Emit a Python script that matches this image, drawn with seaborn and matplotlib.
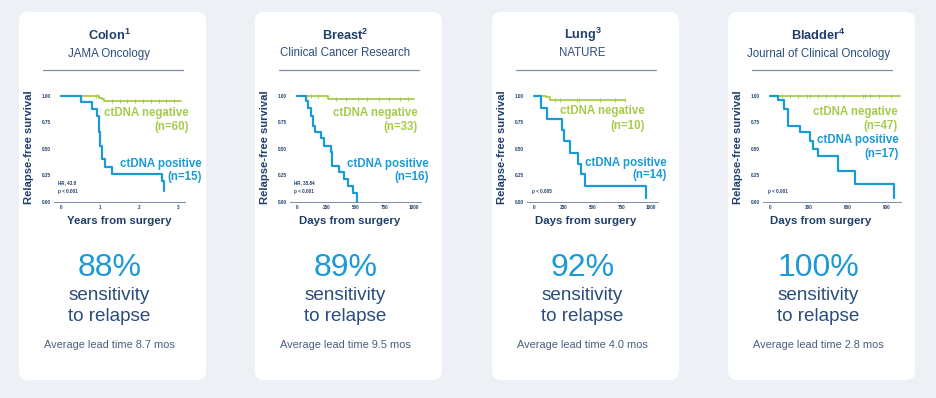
import numpy as np
import pandas as pd
import seaborn as sns
import matplotlib.pyplot as plt
from matplotlib.patches import FancyBboxPatch
from matplotlib.lines import Line2D
from matplotlib.transforms import IdentityTransform

# ---- data ----
cancers = ["Colon", "Breast", "Lung", "Bladder"]
ref_marks = ["1", "2", "3", "4"]
journals = ["JAMA Oncology", "Clinical Cancer Research", "NATURE", "Journal of Clinical Oncology"]
x_titles = ["Years from surgery", "Days from surgery", "Days from surgery", "Days from surgery"]
x_tick_values = [[0, 1, 2, 3], [0, 250, 500, 750, 1000], [0, 250, 500, 750, 1000], [0, 300, 600, 900]]
y_tick_values = [0.0, 0.25, 0.50, 0.75, 1.00]
n_negative = [60, 33, 10, 47]
n_positive = [15, 16, 14, 17]
stat_lines = [["HR, 43.8", "p < 0.001"], ["HR, 35.84", "p < 0.001"], ["p < 0.005"], ["p < 0.001"]]
sensitivity_pct = [88, 89, 92, 100]
lead_time_mos = [8.7, 9.5, 4.0, 2.8]

# Kaplan-Meier steps (time, survival)
colon_pos_t = [0, 0.5, 0.8, 0.93, 0.97, 1.01, 1.06, 1.12, 1.31, 2.58, 2.64]
colon_pos_s = [1.0, 0.94, 0.88, 0.81, 0.66, 0.53, 0.40, 0.33, 0.26, 0.19, 0.10]
colon_neg_t = [0, 0.98, 1.04, 1.1, 3.07]
colon_neg_s = [1.0, 0.983, 0.967, 0.955, 0.955]
colon_neg_censor = [0.9, 0.95, 1.3, 1.5, 1.7, 1.9, 2.1, 2.3, 2.5, 2.7, 2.9]

breast_pos_t = [0, 78, 98, 116, 133, 156, 202, 231, 287, 303, 360, 404, 432, 478, 510]
breast_pos_s = [1.0, 0.95, 0.89, 0.81, 0.72, 0.66, 0.60, 0.53, 0.47, 0.34, 0.28, 0.21, 0.15, 0.08, 0.0]
breast_neg_t = [0, 265, 1000]
breast_neg_s = [1.0, 0.97, 0.97]
breast_neg_censor = [120, 180, 330, 420, 520, 600, 700, 790, 880, 950]

lung_pos_t = [0, 59, 110, 238, 260, 308, 374, 399, 436, 960]
lung_pos_s = [1.0, 0.89, 0.78, 0.68, 0.57, 0.46, 0.36, 0.26, 0.15, 0.03]
lung_neg_t = [0, 100, 140, 782]
lung_neg_s = [1.0, 0.99, 0.965, 0.965]
lung_neg_censor = [180, 225, 365, 385, 560, 690, 775]

bladder_pos_t = [0, 64, 104, 140, 231, 308, 328, 371, 524, 651, 951]
bladder_pos_s = [1.0, 0.96, 0.88, 0.72, 0.66, 0.57, 0.50, 0.43, 0.29, 0.17, 0.03]
bladder_neg_t = [0, 1002]
bladder_neg_s = [1.0, 1.0]
bladder_neg_censor = [92, 155, 218, 282, 308, 371, 434, 498, 562, 715, 728, 766, 842, 931]

positive_curves = [(colon_pos_t, colon_pos_s), (breast_pos_t, breast_pos_s),
                   (lung_pos_t, lung_pos_s), (bladder_pos_t, bladder_pos_s)]
negative_curves = [(colon_neg_t, colon_neg_s), (breast_neg_t, breast_neg_s),
                   (lung_neg_t, lung_neg_s), (bladder_neg_t, bladder_neg_s)]
negative_censors = [colon_neg_censor, breast_neg_censor, lung_neg_censor, bladder_neg_censor]

# ---- layout (pixels, measured from the top-left) ----
W, H = 936, 398
card_left = [19, 255, 492, 728]
card_w, card_top, card_bottom = 187, 12, 380
x_limits = [(-0.18, 3.18), (-60, 1060), (-60, 1060), (-54, 1005)]
ax_bottom_px, ax_top_px = 201.5, 90.7
xlabel_cx = [100, 95, 94, 93]
neg_label_pos = [(170, 113, 127), (163, 113, 127), (153, 111, 125.5), (170, 112.5, 126)]
pos_label_pos = [(183, 164, 177), (174, 164, 177), (175, 162.5, 175), (171, 139.5, 153.5)]

BG = "#edf0f4"
NAVY = "#1f3f6b"
NAVY_TEXT = "#2b4d7b"
GREY_NAVY = "#4a5f80"
BLUE = "#1b9ad6"
GREEN = "#a2c83e"
GREEN_TEXT = "#a6cb4c"
RULE = "#7d8ea9"

sns.set_theme(style="white")
plt.rcParams["font.family"] = ["Liberation Sans", "DejaVu Sans"]
plt.rcParams["mathtext.fontset"] = "custom"
plt.rcParams["mathtext.rm"] = "Liberation Sans"


def fx(x):
    return x / W


def fy(y):
    return 1 - y / H


def step_value(times, surv, t):
    i = np.searchsorted(times, t, side="right") - 1
    return surv[i]


fig = plt.figure(figsize=(W / 100, H / 100), dpi=100)
fig.patch.set_facecolor(BG)

for k, cx0 in enumerate(card_left):
    card = FancyBboxPatch((cx0, H - card_bottom), card_w, card_bottom - card_top,
                          boxstyle="round,pad=0,rounding_size=9",
                          facecolor="white", edgecolor="none",
                          transform=IdentityTransform(), zorder=0)
    fig.add_artist(card)
    mid = cx0 + card_w / 2 - 3

    # header
    fig.text(fx(mid), fy(35), cancers[k] + r"$^{\mathregular{" + ref_marks[k] + "}}$",
             ha="center", va="center", fontsize=9.2, fontweight="bold", color=NAVY)
    fig.text(fx(mid), fy(53.5), journals[k], ha="center", va="center",
             fontsize=8.3, color=NAVY_TEXT)
    fig.add_artist(Line2D([fx(cx0 + 24), fx(cx0 + 164)], [fy(70), fy(70)],
                          color=RULE, linewidth=0.9, transform=fig.transFigure))

    # KM axes
    xlo, xhi = x_limits[k]
    scale = 117.0 / x_tick_values[k][-1]
    left_px = cx0 + 42 + xlo * scale
    right_px = cx0 + 42 + xhi * scale
    ax = fig.add_axes([fx(left_px), fy(ax_bottom_px), (right_px - left_px) / W,
                       (ax_bottom_px - ax_top_px) / H])
    ax.set_facecolor("none")

    nt, ns = negative_curves[k]
    pt, ps = positive_curves[k]
    sns.lineplot(x=nt, y=ns, ax=ax, color=GREEN, linewidth=1.2,
                 drawstyle="steps-post", estimator=None, sort=False, clip_on=False)
    cens = negative_censors[k]
    cens_y = [step_value(nt, ns, c) for c in cens]
    sns.scatterplot(x=cens, y=cens_y, ax=ax, marker="|", s=9, color=GREEN,
                    linewidth=0.6, clip_on=False)
    sns.lineplot(x=pt, y=ps, ax=ax, color=BLUE, linewidth=1.6,
                 drawstyle="steps-post", estimator=None, sort=False, clip_on=False)

    ax.set_xlim(xlo, xhi)
    ax.set_ylim(0, 1.05)
    ax.set_xticks(x_tick_values[k])
    ax.set_yticks(y_tick_values)
    ax.set_yticklabels([f"{v:.2f}" for v in y_tick_values])
    ax.set_xlabel("")
    ax.set_ylabel("")
    for side in ["left", "top", "right"]:
        ax.spines[side].set_visible(False)
    ax.spines["bottom"].set_color(RULE)
    ax.spines["bottom"].set_linewidth(0.7)
    ax.tick_params(axis="x", length=1.6, width=0.6, color=RULE, pad=1.2,
                   labelsize=3.3, labelcolor=NAVY)
    ax.tick_params(axis="y", length=0, pad=2.2, labelsize=3.3, labelcolor=NAVY)
    for lab in ax.get_xticklabels() + ax.get_yticklabels():
        lab.set_fontweight("bold")

    # axis titles
    fig.text(fx(cx0 + 10), fy(147), "Relapse-free survival", rotation=90,
             ha="center", va="center", fontsize=8.1, fontweight="bold", color=NAVY)
    fig.text(fx(cx0 + xlabel_cx[k]), fy(221), x_titles[k], ha="center", va="center",
             fontsize=8.2, fontweight="bold", color=NAVY)

    # curve labels
    rx, y1, y2 = neg_label_pos[k]
    fig.text(fx(cx0 + rx), fy(y1), "ctDNA negative", ha="right", va="center",
             fontsize=8.3, fontweight="bold", color=GREEN_TEXT)
    fig.text(fx(cx0 + rx), fy(y2), f"(n={n_negative[k]})", ha="right", va="center",
             fontsize=8.3, fontweight="bold", color=GREEN_TEXT)
    rx, y1, y2 = pos_label_pos[k]
    fig.text(fx(cx0 + rx), fy(y1), "ctDNA positive", ha="right", va="center",
             fontsize=8.3, fontweight="bold", color=BLUE)
    fig.text(fx(cx0 + rx), fy(y2), f"(n={n_positive[k]})", ha="right", va="center",
             fontsize=8.3, fontweight="bold", color=BLUE)

    lines = stat_lines[k]
    for j, s in enumerate(lines):
        yy = 191 - 8 * (len(lines) - 1 - j)
        fig.text(fx(cx0 + 39.5), fy(yy), s, ha="left", va="center",
                 fontsize=3.3, fontweight="bold", color=NAVY)

    # summary
    fig.text(fx(mid), fy(267.5), f"{sensitivity_pct[k]}%", ha="center", va="center",
             fontsize=23, color=BLUE)
    fig.text(fx(mid), fy(295), "sensitivity", ha="center", va="center",
             fontsize=13.6, color=NAVY_TEXT)
    fig.text(fx(mid), fy(316.5), "to relapse", ha="center", va="center",
             fontsize=13.6, color=NAVY_TEXT)
    fig.text(fx(mid), fy(344.5), f"Average lead time {lead_time_mos[k]:.1f} mos",
             ha="center", va="center", fontsize=7.9, color=GREY_NAVY)

fig.savefig("out.png", dpi=100, facecolor=BG)
